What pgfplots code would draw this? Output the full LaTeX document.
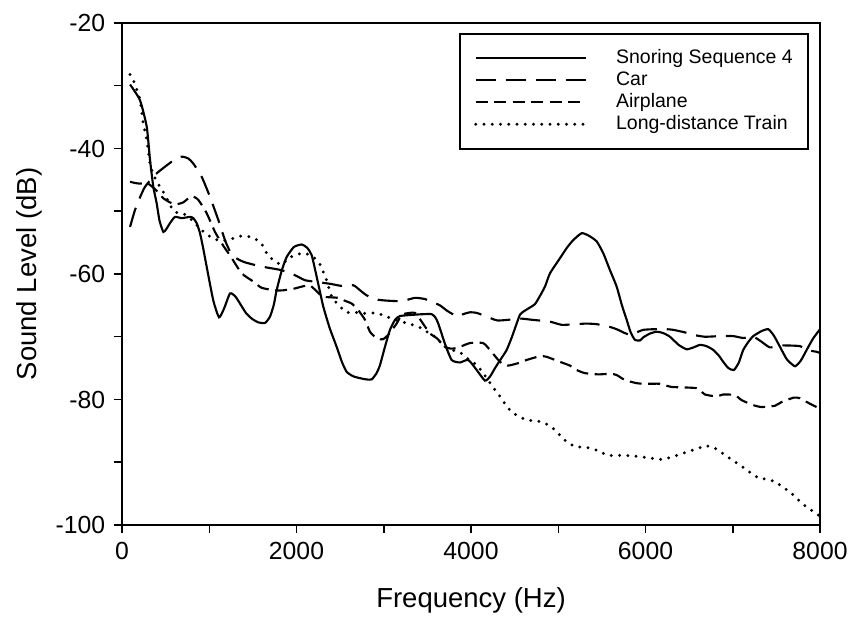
\documentclass[border=0pt]{standalone}
\usepackage{fontspec}
\setmainfont{Liberation Sans}
\usepackage{pgfplots}
\pgfplotsset{compat=1.18}

\begin{document}
\begin{tikzpicture}
\begin{axis}[
  scale only axis,
  width=279.2pt, height=200.8pt,
  xmin=0, xmax=8000, ymin=-100, ymax=-20,
  xtick={0,2000,...,8000}, ytick={-100,-80,...,-20},
  minor tick num=1,
  tick pos=left, tick align=outside,
  major tick length=3.2pt, minor tick length=3.2pt,
  every tick/.style={black, line width=0.6pt},
  axis line style={line width=0.6pt},
  scaled x ticks=false,
  /pgf/number format/set thousands separator={},
  /pgf/number format/assume math mode=true,
  tick label style={font=\fontsize{9.9}{11}\selectfont},
  xlabel={Frequency (Hz)}, ylabel={Sound Level (dB)},
  label style={font=\fontsize{11}{13}\selectfont},
  xlabel style={at={(axis description cs:0.5,0)}, anchor=center, yshift=-30pt},
  ylabel style={at={(axis description cs:-0.132,0.5)}, anchor=center},
  legend image code/.code={\draw[#1] (0pt,0pt) -- (44pt,0pt);},
  legend cell align=left,
  legend style={at={(0.984,0.98)}, anchor=north east, draw=black, line width=0.6pt,
    font=\fontsize{7.8}{8.7}\selectfont, inner xsep=5.6pt, inner ysep=5.4pt,
    nodes={inner sep=0.5pt, text height=6pt, text depth=1.8pt},
    /tikz/every odd column/.append style={column sep=11pt}},
  every axis plot/.append style={line width=0.85pt, black, no marks, smooth, tension=0.35},
]
% Snoring Sequence 4
\addplot[solid] coordinates {
(92,-29.8) (206,-32.3) (283,-36.5) (321,-41.8) (359,-46.1) (397,-48.7) (430,-51.5) (474,-53.3)
(510,-52.8) (550,-51.9) (607,-50.9) (684,-51.1) (779,-50.9) (817,-51.1) (856,-51.9) (894,-53.5)
(932,-56.0) (970,-58.8) (1046,-64.2) (1112,-66.9) (1170,-65.5) (1238,-63.1) (1300,-63.6) (1352,-64.7)
(1420,-66.2) (1486,-67.1) (1560,-67.7) (1639,-67.8) (1696,-66.8) (1740,-64.9) (1772,-62.6) (1830,-59.5)
(1887,-57.3) (1970,-55.7) (2059,-55.3) (2120,-55.8) (2174,-57.0) (2240,-61.0) (2307,-65.2) (2380,-68.6)
(2460,-71.6) (2520,-74.0) (2575,-75.6) (2650,-76.3) (2727,-76.6) (2800,-76.8) (2861,-76.8) (2918,-75.8)
(2957,-74.5) (3014,-71.6) (3071,-68.9) (3130,-67.3) (3186,-66.7) (3338,-66.5) (3460,-66.4) (3549,-66.4)
(3590,-66.9) (3625,-67.9) (3701,-71.1) (3778,-73.7) (3873,-74.1) (3969,-73.7) (4065,-75.3) (4160,-77.0)
(4220,-76.3) (4275,-75.0) (4340,-73.6) (4409,-72.1) (4470,-70.0) (4523,-67.9) (4561,-66.5) (4600,-66.0)
(4657,-65.5) (4733,-64.8) (4790,-63.5) (4848,-62.0) (4905,-59.9) (5019,-57.5) (5100,-55.8) (5172,-54.6)
(5268,-53.5) (5350,-53.9) (5440,-54.8) (5516,-56.7) (5590,-59.3) (5669,-62.0) (5730,-65.0) (5784,-67.3)
(5830,-69.3) (5879,-70.5) (5936,-70.6) (5974,-70.1) (6050,-69.5) (6128,-69.2) (6200,-69.4) (6280,-70.0)
(6380,-71.3) (6471,-72.0) (6550,-71.7) (6624,-71.3) (6700,-71.5) (6776,-72.1) (6840,-73.0) (6891,-74.0)
(6950,-75.0) (7013,-75.3) (7070,-74.1) (7120,-72.1) (7180,-70.8) (7235,-69.9) (7330,-69.1) (7407,-68.8)
(7470,-69.8) (7541,-71.6) (7620,-73.6) (7713,-74.7) (7780,-73.8) (7847,-72.1) (7920,-70.3) (8000,-68.8)
};
% Car
\addplot[dash pattern=on 8pt off 4pt] coordinates {
(92,-52.5) (149,-49.8) (206,-47.8) (264,-46.1) (378,-44.2) (493,-42.9) (600,-41.8) (684,-41.3)
(760,-41.6) (817,-42.4) (913,-44.5) (1008,-47.7) (1104,-51.4) (1180,-54.6) (1238,-56.4) (1300,-57.4)
(1400,-58.1) (1562,-58.7) (1673,-59.0) (1830,-59.4) (1983,-60.2) (2100,-61.0) (2250,-61.3) (2400,-61.6)
(2518,-61.9) (2651,-61.8) (2720,-62.5) (2804,-63.4) (2934,-64.1) (3100,-64.3) (3220,-64.3) (3358,-63.8)
(3472,-64.0) (3560,-64.5) (3644,-65.0) (3720,-65.8) (3778,-66.3) (3854,-66.8) (3911,-66.4) (3990,-66.1)
(4065,-66.2) (4180,-66.8) (4300,-67.4) (4427,-67.3) (4561,-67.1) (4700,-67.3) (4905,-67.6) (5039,-68.1)
(5200,-68.0) (5325,-67.9) (5440,-68.0) (5560,-68.3) (5669,-68.8) (5760,-69.4) (5830,-69.7) (5900,-69.3)
(5974,-68.9) (6100,-68.8) (6242,-68.8) (6318,-68.9) (6450,-69.3) (6547,-69.7) (6681,-70.0) (6850,-69.9)
(7006,-69.9) (7120,-70.2) (7235,-70.0) (7330,-70.8) (7426,-71.7) (7541,-71.4) (7650,-71.4) (7770,-71.5)
(7847,-72.1) (7961,-72.4) (8000,-72.6)
};
% Airplane
\addplot[dash pattern=on 4.8pt off 2.6pt] coordinates {
(92,-45.3) (150,-45.5) (206,-45.6) (260,-45.5) (300,-45.6) (380,-46.5) (480,-48.0) (600,-48.9)
(700,-48.6) (798,-47.6) (875,-48.2) (970,-50.3) (1066,-53.3) (1161,-55.5) (1250,-57.3) (1372,-59.9)
(1505,-61.2) (1600,-62.2) (1753,-62.6) (1850,-62.6) (1983,-62.3) (2063,-62.0) (2150,-61.8) (2220,-62.6)
(2300,-63.6) (2475,-63.8) (2560,-64.3) (2632,-64.7) (2704,-65.7) (2785,-67.3) (2842,-69.2) (2920,-70.3)
(2990,-70.4) (3051,-69.7) (3148,-67.9) (3205,-66.5) (3300,-66.2) (3358,-66.2) (3420,-67.3) (3530,-69.5)
(3606,-70.2) (3701,-71.6) (3770,-71.9) (3835,-71.8) (3911,-71.4) (3990,-71.0) (4137,-71.0) (4217,-72.1)
(4332,-74.0) (4420,-74.6) (4542,-74.2) (4638,-73.7) (4790,-73.1) (4867,-73.2) (5019,-74.0) (5134,-74.6)
(5211,-75.3) (5306,-75.8) (5459,-76.0) (5600,-75.9) (5669,-76.1) (5764,-76.9) (5898,-77.4) (6000,-77.5)
(6165,-77.5) (6300,-78.0) (6586,-78.2) (6681,-79.2) (6815,-79.5) (6891,-79.2) (7025,-79.3) (7101,-80.1)
(7235,-80.9) (7330,-81.2) (7483,-81.0) (7560,-80.4) (7700,-79.7) (7770,-79.8) (7847,-80.4) (7961,-81.2)
(8000,-81.5)
};
% Long-distance Train
\addplot[line width=1.3pt, line cap=round, dash pattern=on 0pt off 3.3pt] coordinates {
(92,-28.2) (141,-29.5) (206,-32.2) (244,-36.0) (283,-38.6) (321,-42.4) (370,-44.5) (435,-46.1)
(493,-47.4) (550,-49.0) (607,-50.1) (703,-50.4) (770,-51.0) (837,-51.9) (951,-53.5) (1046,-54.3)
(1123,-54.7) (1218,-54.6) (1333,-54.0) (1420,-54.0) (1505,-54.2) (1601,-55.2) (1658,-56.7) (1734,-57.8)
(1830,-58.5) (1906,-57.5) (2002,-56.9) (2097,-56.7) (2193,-57.3) (2269,-58.5) (2346,-61.0) (2403,-63.6)
(2479,-64.9) (2575,-66.1) (2670,-66.1) (2747,-66.3) (2842,-66.2) (2937,-66.3) (3033,-66.8) (3205,-67.6)
(3396,-68.4) (3492,-69.2) (3587,-70.0) (3702,-71.6) (3778,-72.1) (3873,-72.5) (3950,-73.4) (4065,-74.5)
(4122,-75.5) (4190,-76.8) (4255,-78.1) (4332,-79.5) (4389,-80.7) (4466,-82.0) (4561,-82.8) (4657,-83.3)
(4752,-83.4) (4848,-83.8) (4924,-84.4) (5019,-85.7) (5103,-86.8) (5191,-87.5) (5287,-87.6) (5382,-87.8)
(5478,-88.3) (5573,-88.9) (5745,-88.9) (5936,-89.1) (6128,-89.5) (6211,-89.5) (6318,-89.1) (6490,-88.3)
(6585,-87.9) (6681,-87.4) (6776,-87.6) (6853,-88.3) (6948,-89.2) (7044,-90.1) (7140,-91.0) (7235,-92.0)
(7311,-92.6) (7407,-92.7) (7503,-93.3) (7598,-94.2) (7694,-95.2) (7789,-96.5) (7885,-97.5) (7980,-98.4)
(8000,-98.6)
};
\legend{Snoring Sequence 4,Car,Airplane,Long-distance Train}
\end{axis}
\pgfresetboundingbox
\path ([shift={(-48.8pt,-36.8pt)}]current axis.south west) rectangle ([shift={(16.4pt,9.2pt)}]current axis.north east);
\end{tikzpicture}
\end{document}
